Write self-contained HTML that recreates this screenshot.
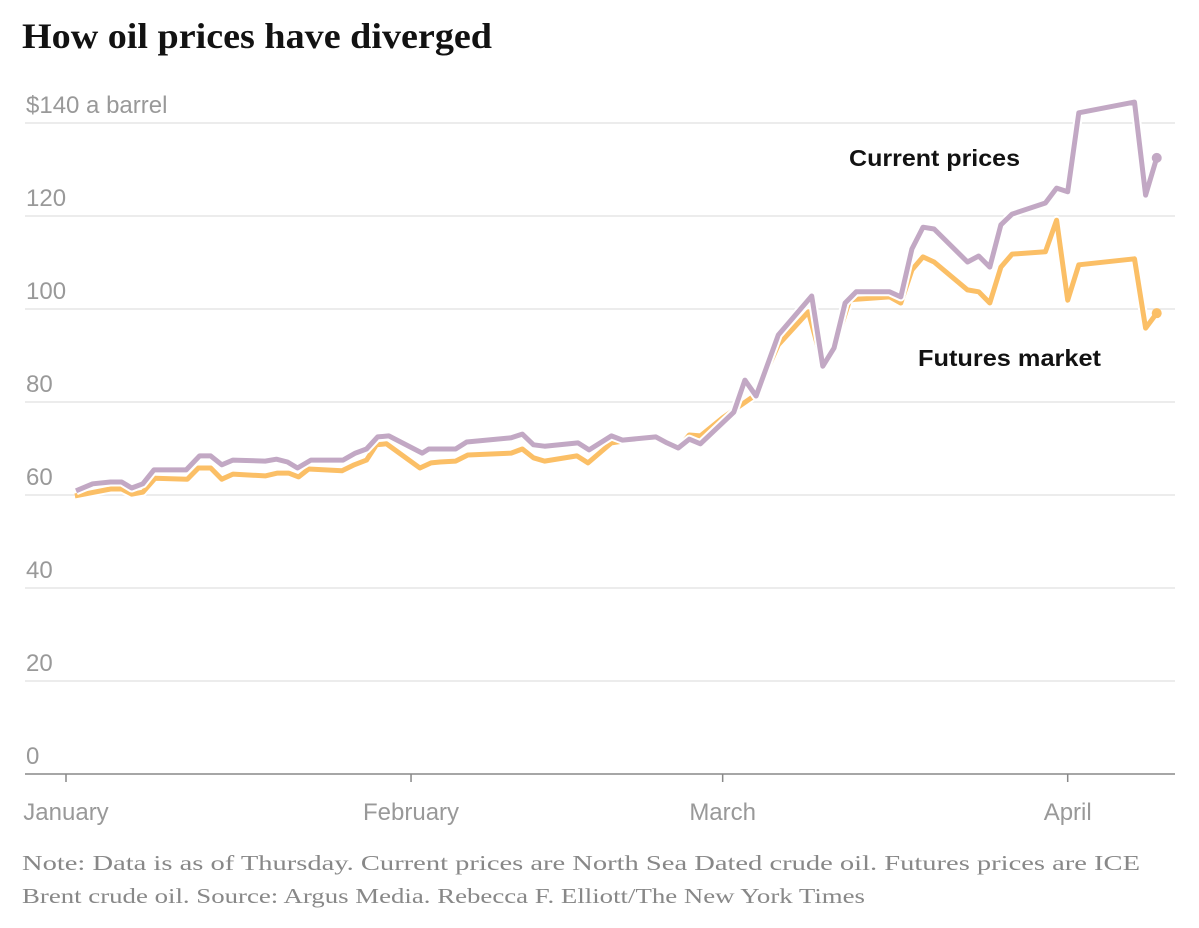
<!DOCTYPE html>
<html><head><meta charset="utf-8">
<style>
body{margin:0;background:#fff;width:1199px;height:928px;overflow:hidden;}
svg{display:block;}
.title{font-family:"Liberation Serif",serif;font-weight:bold;font-size:36px;fill:#121212;}
.tick{font-family:"Liberation Sans",sans-serif;font-size:24px;fill:#999;}
.lab{font-family:"Liberation Sans",sans-serif;font-weight:bold;font-size:23px;fill:#121212;}
.note{font-family:"Liberation Serif",serif;font-size:21px;fill:#888;}
</style></head>
<body>
<svg id="chart" width="1199" height="928">
<text class="title" x="22" y="48" textLength="470" lengthAdjust="spacingAndGlyphs">How oil prices have diverged</text>
<g id="grid"></g>
<g id="xaxis"></g>
<g id="lines"></g>
<text class="lab" x="849" y="166" textLength="171" lengthAdjust="spacingAndGlyphs">Current prices</text>
<text class="lab" x="918" y="366" textLength="183" lengthAdjust="spacingAndGlyphs">Futures market</text>
<text class="note" x="22" y="870" textLength="1118" lengthAdjust="spacingAndGlyphs">Note: Data is as of Thursday. Current prices are North Sea Dated crude oil. Futures prices are ICE</text>
<text class="note" x="22" y="903" textLength="843" lengthAdjust="spacingAndGlyphs">Brent crude oil.  Source: Argus Media.  Rebecca F. Elliott/The New York Times</text>
</svg>
<script>
const yTicks=[0,20,40,60,80,100,120,140];
const xTickLabels=["January","February","March","April"];
const xTickDays=[0,31,59,90];
const currentDays=[0.9,2.4,4,5,5.9,6.9,7.9,10.8,12,13,14,15,17.9,18.9,19.9,20.8,22,24.9,26,27,28,29,32,32.6,33.6,35,36,40,41,42,43,46,47,49,50,53,54,55,56,57,60,61,62,64,67,68,69,70,71,74,75,76,77,78,81,82,83,84,85,88,89,90,91,96,97,98];
const currentVals=[60.9,62.4,62.8,62.8,61.5,62.4,65.4,65.4,68.4,68.4,66.5,67.5,67.3,67.7,67.1,65.8,67.5,67.5,69,69.9,72.5,72.7,69,69.9,69.9,69.9,71.4,72.3,73.1,70.8,70.5,71.2,69.7,72.7,71.8,72.5,71.2,70.1,72,71,77.8,84.7,81.3,94.4,102.8,87.7,91.6,101.3,103.7,103.7,102.6,112.9,117.6,117.2,110.1,111.4,109,118.1,120.4,122.8,126,125.2,142.2,144.5,124.5,132.5];
const futuresDays=[0.8,4,5,5.9,6.9,8,10.9,11.9,13,14,15,17.9,19,20,20.9,21.8,24.8,25.9,27,27.9,28.8,31.8,32.8,33.6,35,36.1,40,41,42,43,45.9,46.9,49,50,53,54,55,56,57,59,62,64,66.7,68,69,70.4,71,74,75,76,77,78,81,82,83,84,85,88,89,90,91,96,97,98];
const futuresVals=[59.8,61.3,61.3,60.2,60.6,63.6,63.4,65.8,65.8,63.4,64.5,64.1,64.7,64.7,63.9,65.6,65.2,66.5,67.5,70.8,71,65.8,66.9,67.1,67.3,68.6,69,69.9,68,67.3,68.4,66.9,71.2,71.6,72.3,71,70,72.9,72.7,76.6,81.6,92.3,99.4,88,91.5,101.9,102.1,102.6,101.3,108.4,111.2,110.1,104.1,103.7,101.3,109,111.8,112.3,119.1,101.9,109.5,110.8,95.9,99.1];

const NS="http://www.w3.org/2000/svg";
const x=d=>66+d*11.13;
const y=v=>774-v*4.65;
function mk(tag,attrs,parent){const e=document.createElementNS(NS,tag);for(const k in attrs)e.setAttribute(k,attrs[k]);parent.appendChild(e);return e;}
const grid=document.getElementById('grid');
yTicks.forEach((t,i)=>{
  if(t>0){const l=mk('line',{x1:25,x2:1175,y1:y(t),y2:y(t),stroke:'#e6e6e6','stroke-width':1.5},grid);
  
  }
  const tx=mk('text',{x:26,y:y(t)-10,class:'tick'},grid);
  tx.textContent=i===yTicks.length-1?'$'+t+' a barrel':String(t);
  
  
});
const xa=document.getElementById('xaxis');
const ax=mk('line',{x1:25,x2:1175,y1:774,y2:774,stroke:'#888','stroke-width':1.5},xa);


xTickDays.forEach((d,i)=>{
  const tk=mk('line',{x1:x(d),x2:x(d),y1:774,y2:782,stroke:'#888','stroke-width':1.5},xa);
  
  
  const t=mk('text',{x:x(d),y:820,class:'tick','text-anchor':'middle'},xa);
  t.textContent=xTickLabels[i];
  
  
});
const lines=document.getElementById('lines');
function series(days,vals,color,name){
  const pts=days.map((d,i)=>x(d).toFixed(1)+','+y(vals[i]).toFixed(1)).join(' ');
  mk('polyline',{points:pts,fill:'none',stroke:'#fff','stroke-width':9,'stroke-linejoin':'round'},lines);
  const p=mk('polyline',{points:pts,fill:'none',stroke:color,'stroke-width':5,'stroke-linejoin':'round'},lines);
  
  
  const n=days.length-1;
  const c=mk('circle',{cx:x(days[n]),cy:y(vals[n]),r:5,fill:color},lines);
  
  
}
series(futuresDays,futuresVals,'#fbbf66','futures');
series(currentDays,currentVals,'#c2a8c4','current');
</script>
</body></html>
